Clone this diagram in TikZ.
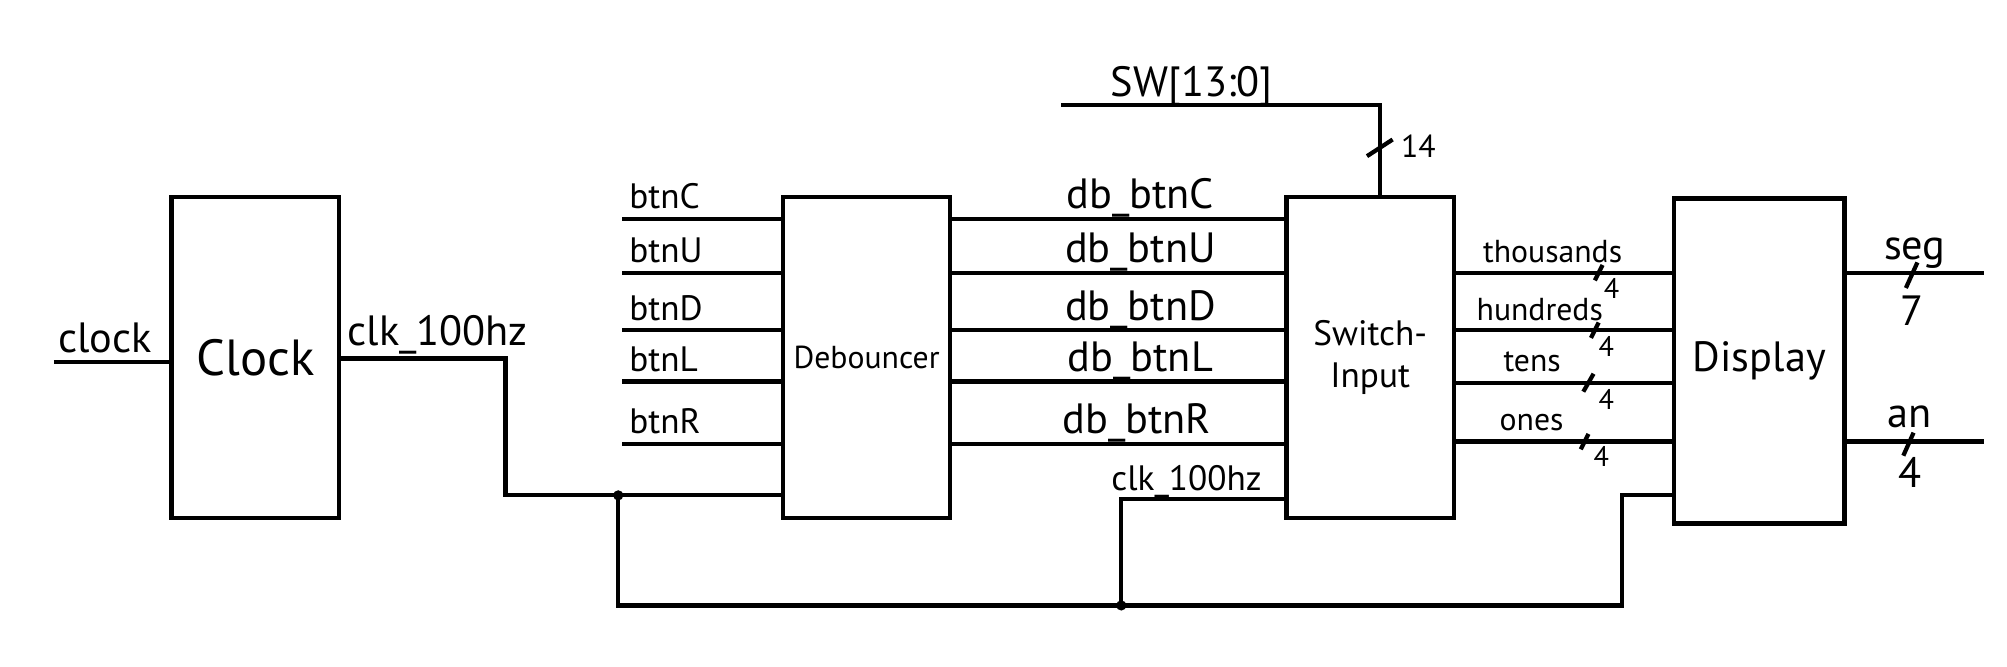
\documentclass[tikz,border=0pt]{standalone}
\usepackage{fontspec}
\setmainfont{PT Sans}

\begin{document}
\begin{tikzpicture}[x=0.1276mm, y=-0.1276mm, line width=1.2pt,
    block/.style={draw, line width=1.2pt, minimum width=16.7mm, minimum height=32mm, inner sep=0pt},
    lbl/.style={anchor=base, inner sep=0pt}]
    \useasboundingbox (0,0) rectangle (1568,521);
    % Draw blocks
    \node[block] (clk) at (199.5,279.5) {\Large Clock};
    \node[block] (deb) at (677,279.5) {\small Debouncer};
    \node[block, align=center] (swi) at (1070.5,279.5) {Switch-\\Input};
    \node[block, minimum width=17mm, minimum height=32.4mm] (disp) at (1374.5,282) {\large Display};
    % Draw clock input
    \coordinate (clkin) at (42,283);
    \draw (clkin) -- (clkin -| clk.west);
    \node[lbl, anchor=base west] (lclkin) at (44,275) {\large clock};
    % Draw clk_100hz net
    \coordinate (c1) at (395,280);
    \coordinate (c2) at (395,387);
    \coordinate (j1) at (483,387);
    \coordinate (c3) at (483,473);
    \coordinate (j2) at (876,473);
    \coordinate (c4) at (876,390);
    \coordinate (c5) at (1267,473);
    \coordinate (c6) at (1267,387);
    \draw (clk.east |- c1) -- (c1) -- (c2) -- (c2 -| deb.west);
    \draw (j1) -- (c3) -- (j2) -- (c5) -- (c6) -- (c6 -| disp.west);
    \draw (j2) -- (c4) -- (c4 -| swi.west);
    \fill (j1) circle (4);
    \fill (j2) circle (4);
    \node[lbl, anchor=base west] (lclk1) at (270,270) {\large clk\_100hz};
    \node[lbl] (lclk2) at (927,383) {clk\_100hz};
    % Draw button inputs
    \coordinate (btnC) at (486,171);
    \coordinate (btnU) at (486,213);
    \coordinate (btnD) at (486,258);
    \coordinate (btnL) at (486,298);
    \coordinate (btnR) at (486,347);
    \draw (btnC) -- (btnC -| deb.west);
    \draw (btnU) -- (btnU -| deb.west);
    \draw (btnD) -- (btnD -| deb.west);
    \draw (btnL) -- (btnL -| deb.west);
    \draw (btnR) -- (btnR -| deb.west);
    \node[lbl, anchor=base west] (lbtnC) at (490,163) {btnC};
    \node[lbl, anchor=base west] (lbtnU) at (490,205) {btnU};
    \node[lbl, anchor=base west] (lbtnD) at (490,250) {btnD};
    \node[lbl, anchor=base west] (lbtnL) at (490,290) {btnL};
    \node[lbl, anchor=base west] (lbtnR) at (490,339) {btnR};
    % Draw debounced buttons
    \draw (btnC -| deb.east) -- (btnC -| swi.west);
    \draw (btnU -| deb.east) -- (btnU -| swi.west);
    \draw (btnD -| deb.east) -- (btnD -| swi.west);
    \draw (btnL -| deb.east) -- (btnL -| swi.west);
    \draw (btnR -| deb.east) -- (btnR -| swi.west);
    \node[lbl] (ldbC) at (891,163) {\large db\_btnC};
    \node[lbl] (ldbU) at (891,205) {\large db\_btnU};
    \node[lbl] (ldbD) at (891,250) {\large db\_btnD};
    \node[lbl] (ldbL) at (891,290) {\large db\_btnL};
    \node[lbl] (ldbR) at (888,339) {\large db\_btnR};
    % Draw switches
    \coordinate (sw) at (829,82);
    \coordinate (swend) at (1078,82);
    \draw (sw) -- (swend) -- (swend |- swi.north);
    \draw (1068,122) -- (1088,109);
    \node[lbl] (lsw) at (931,75) {\large SW[13:0]};
    \node[lbl, anchor=base west] (nsw) at (1093,123) {\small 14};
    % Draw digit outputs
    \coordinate (thou) at (1136,213);
    \coordinate (hund) at (1136,258);
    \coordinate (tens) at (1136,299);
    \coordinate (ones) at (1136,345);
    \draw (thou) -- (thou -| disp.west);
    \draw (hund) -- (hund -| disp.west);
    \draw (tens) -- (tens -| disp.west);
    \draw (ones) -- (ones -| disp.west);
    \node[lbl, anchor=base west] (lthou) at (1157,205) {\small thousands};
    \node[lbl, anchor=base west] (lhund) at (1152,250) {\small hundreds};
    \node[lbl, anchor=base west] (ltens) at (1173,290) {\small tens};
    \node[lbl, anchor=base west] (lones) at (1170,336) {\small ones};
    \draw (1246,219) -- (1252,207);
    \draw (1243,264) -- (1249,252);
    \draw (1237,306) -- (1245,292);
    \draw (1235,351) -- (1241,339);
    \node[inner sep=0pt] (nthou) at (1259,225) {\footnotesize 4};
    \node[inner sep=0pt] (nhund) at (1255,271) {\footnotesize 4};
    \node[inner sep=0pt] (ntens) at (1255,312) {\footnotesize 4};
    \node[inner sep=0pt] (nones) at (1251,357) {\footnotesize 4};
    % Draw display outputs
    \coordinate (seg) at (1550,213);
    \coordinate (an) at (1550,345);
    \draw (disp.east |- seg) -- (seg);
    \draw (disp.east |- an) -- (an);
    \draw (1489,225) -- (1498,205);
    \draw (1487,356) -- (1495,338);
    \node[lbl] (lseg) at (1496,203) {\large seg};
    \node[lbl] (lan) at (1492,334) {\large an};
    \node (nseg) at (1494,243) {\large 7};
    \node (nan) at (1492,369) {\large 4};
\end{tikzpicture}
\end{document}
